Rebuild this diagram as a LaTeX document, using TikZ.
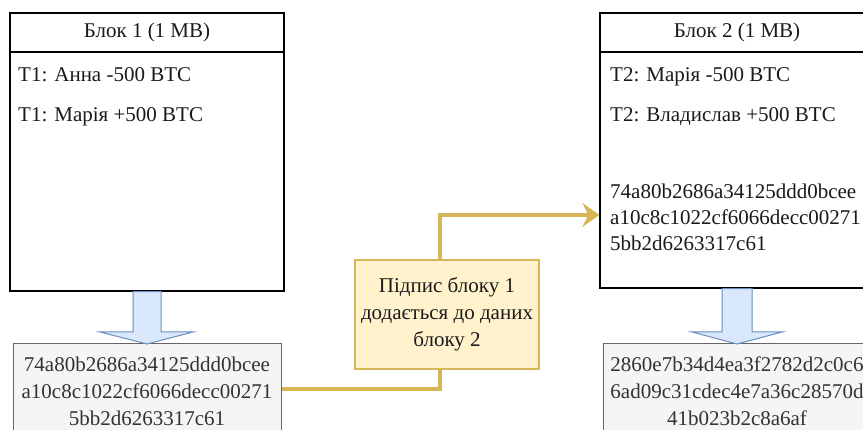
\documentclass[tikz,border=0pt]{standalone}
\usepackage{fontspec}
\setmainfont{Liberation Serif}
\usetikzlibrary{arrows.meta}
\definecolor{ylfill}{HTML}{FFF2CC}
\definecolor{yldraw}{HTML}{D6B656}
\definecolor{blfill}{HTML}{DAE8FC}
\definecolor{bldraw}{HTML}{6C8EBF}
\definecolor{gyfill}{HTML}{F5F5F5}
\definecolor{gydraw}{HTML}{666666}
\definecolor{gytext}{HTML}{333333}
\definecolor{txt}{HTML}{1A1A1A}
\begin{document}
\begin{tikzpicture}[x=1pt,y=-1pt,
  font=\fontsize{21}{27}\selectfont,
  blockbox/.style={draw=black,line width=1.3pt,fill=white,minimum width=274pt,inner sep=0pt},
  headbox/.style={draw=black,line width=1.3pt,minimum width=274pt,minimum height=39pt,inner sep=0pt,text=txt,anchor=north},
  linetext/.style={anchor=base west,inner sep=0pt,text=txt},
  hashbox/.style={draw=gydraw,line width=1pt,fill=gyfill,text=gytext,minimum width=268pt,minimum height=94pt,align=center,inner sep=0pt},
  notebox/.style={draw=yldraw,line width=1.3pt,fill=ylfill,text=txt,minimum width=184pt,minimum height=109pt,align=center,inner sep=0pt},
  fatarrow/.style={draw=bldraw,fill=blfill,line width=1pt,line join=miter},
  link/.style={draw=yldraw,line width=3.6pt},
]
\useasboundingbox (0,0) rectangle (863,430);
\fill[white] (0,0) rectangle (863,430);

% Block 1
\node[blockbox,minimum height=278pt] (b1) at (147,152) {};
\node[headbox] (b1h) at (b1.north) {Блок 1 (1 MB)};
\node[linetext] (t11) at (18,82) {T1: Анна -500 BTC};
\node[linetext] (t12) at (18,122) {T1: Марія +500 BTC};

% Block 2
\node[blockbox,minimum height=275pt] (b2) at (737,150.5) {};
\node[headbox] (b2h) at (b2.north) {Блок 2 (1 MB)};
\node[linetext] (t21) at (610,82) {T2: Марія -500 BTC};
\node[linetext] (t22) at (610,122) {T2: Владислав +500 BTC};
\node[linetext] (h21) at (610,199) {74a80b2686a34125ddd0bcee};
\node[linetext] (h22) at (610,225) {a10c8c1022cf6066decc00271};
\node[linetext] (h23) at (610,251) {5bb2d6263317c61};

% Hash boxes
\node[hashbox] (hs1) at (147,391) {74a80b2686a34125ddd0bcee\\a10c8c1022cf6066decc00271\\5bb2d6263317c61};
\node[hashbox] (hs2) at (737,391) {2860e7b34d4ea3f2782d2c0c6\\6ad09c31cdec4e7a36c28570d\\41b023b2c8a6af};

% Fat arrows
\draw[fatarrow] (b1.south -| 133,0) -- (133,332) -- (100,332) -- (147,344) -- (193,332) -- (161,332) -- (b1.south -| 161,0) -- cycle;
\draw[fatarrow] (b2.south -| 722,0) -- (722,332) -- (692,332) -- (737,344) -- (782,332) -- (752,332) -- (b2.south -| 752,0) -- cycle;

% Note
\node[notebox] (nt) at (447,314.5) {Підпис блоку 1\\додається до даних\\блоку 2};

% Connectors
\coordinate (b2in) at (b2.west |- 0,215);
\draw[link] (hs1.east |- 0,389) -| (nt.south -| 440,0);
\draw[link,-{Stealth[length=17pt,width=24pt,inset=6pt]}] (nt.north -| 440,0) |- (b2in);
\end{tikzpicture}
\end{document}
